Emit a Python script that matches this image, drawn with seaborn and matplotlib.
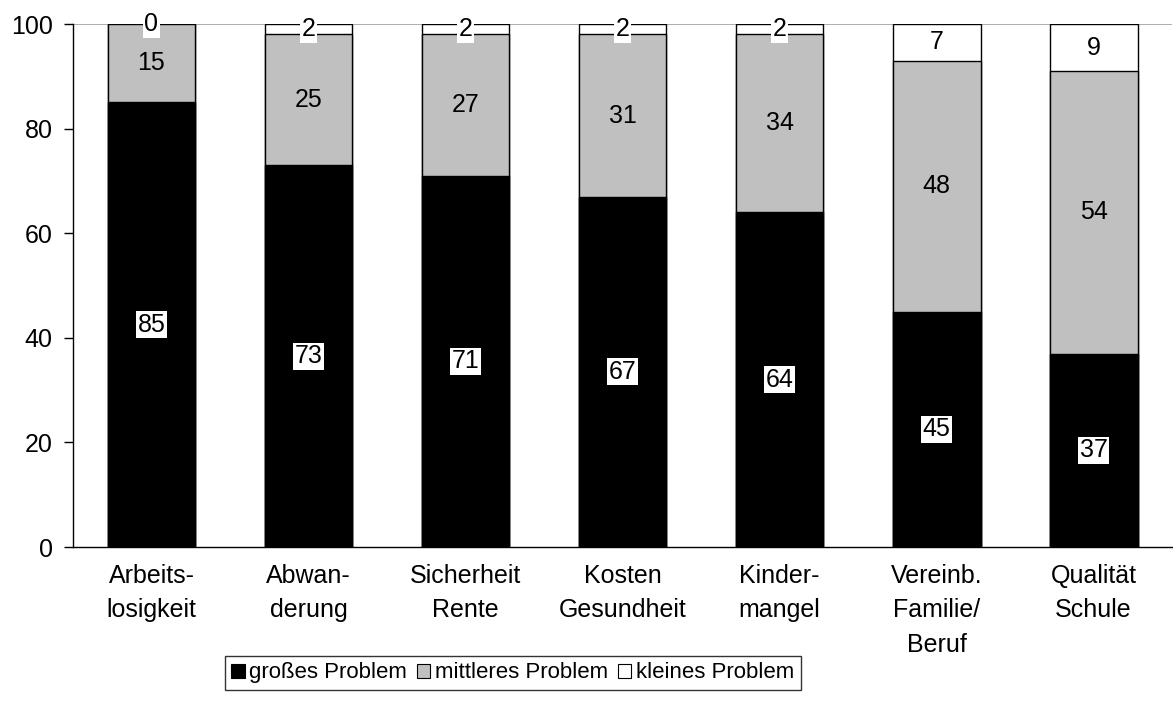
import matplotlib
matplotlib.use('Agg')
import matplotlib.pyplot as plt
import seaborn as sns
import pandas as pd
import numpy as np
from matplotlib.patches import Patch

categories = ['Arbeits-\nlosigkeit', 'Abwan-\nderung', 'Sicherheit\nRente', 'Kosten\nGesundheit',
              'Kinder-\nmangel', 'Vereinb.\nFamilie/\nBeruf', 'Qualität\nSchule']
gross = [85, 73, 71, 67, 64, 45, 37]
mittel = [15, 25, 27, 31, 34, 48, 54]
klein = [0, 2, 2, 2, 2, 7, 9]
series_names = ['großes Problem', 'mittleres Problem', 'kleines Problem']
colors = ['#000000', '#c0c0c0', '#ffffff']

sns.set_style('white')
plt.rcParams['font.family'] = ['Liberation Sans', 'DejaVu Sans']
plt.rcParams['text.color'] = 'black'
plt.rcParams['xtick.labelcolor'] = 'black'
plt.rcParams['ytick.labelcolor'] = 'black'

df = pd.DataFrame({'cat': categories, 'gross': gross, 'mittel': mittel, 'klein': klein})
df['top_g'] = df['gross']
df['top_m'] = df['gross'] + df['mittel']
df['top_k'] = df['gross'] + df['mittel'] + df['klein']

fig = plt.figure(figsize=(11.73, 7.19), dpi=100)
ax = fig.add_axes([0.0622, 0.2392, 0.937, 0.7274])

ax.axhline(100, color='#a0a0a0', lw=1.2, zorder=0)

# draw totals first, then cover with the lower segments
for col, c in [('top_k', colors[2]), ('top_m', colors[1]), ('top_g', colors[0])]:
    sns.barplot(data=df, x='cat', y=col, color=c, width=0.56, edgecolor='black',
                linewidth=1.0, saturation=1, ax=ax, zorder=2)

fs = 18
for i in range(len(categories)):
    g, m, k = gross[i], mittel[i], klein[i]
    ax.text(i, g / 2, str(g), ha='center', va='center', fontsize=fs, zorder=5,
            bbox=dict(facecolor='white', edgecolor='none', pad=1))
    ax.text(i, g + m / 2, str(m), ha='center', va='center', fontsize=fs, zorder=5)
    ax.text(i, g + m + k / 2, str(k), ha='center', va='center', fontsize=fs, zorder=5,
            bbox=dict(facecolor='white', edgecolor='none', pad=1))

ax.set_xlim(-0.5, len(categories) - 0.5)
ax.set_ylim(0, 100)
ax.set_yticks([0, 20, 40, 60, 80, 100])
ax.set_xlabel('')
ax.set_ylabel('')
ax.set_xticks(range(len(categories)))
ax.set_xticklabels(categories, fontsize=fs, linespacing=1.55)
ax.set_xticks(np.arange(-0.5, len(categories), 1), minor=True)
ax.tick_params(axis='x', which='major', length=0, pad=12)
ax.tick_params(axis='x', which='minor', length=6, width=1, color='black', direction='out')
ax.tick_params(axis='y', labelsize=fs, length=6.5, width=1, color='black', direction='out', pad=8, left=True)

for s in ['top', 'right']:
    ax.spines[s].set_visible(False)
for s in ['left', 'bottom']:
    ax.spines[s].set_color('black')
    ax.spines[s].set_linewidth(1)

handles = [Patch(facecolor=c, edgecolor='black', linewidth=0.8) for c in colors]
leg = fig.legend(handles, series_names, loc='center', bbox_to_anchor=(0.437, 0.064), ncol=3,
                 fontsize=16, frameon=True, fancybox=False, handlelength=0.6, handleheight=0.6,
                 handletextpad=0.2, columnspacing=0.45, borderpad=0.3, borderaxespad=0)
leg.get_frame().set_edgecolor('black')
leg.get_frame().set_linewidth(1)

fig.savefig('out.png', dpi=100)
